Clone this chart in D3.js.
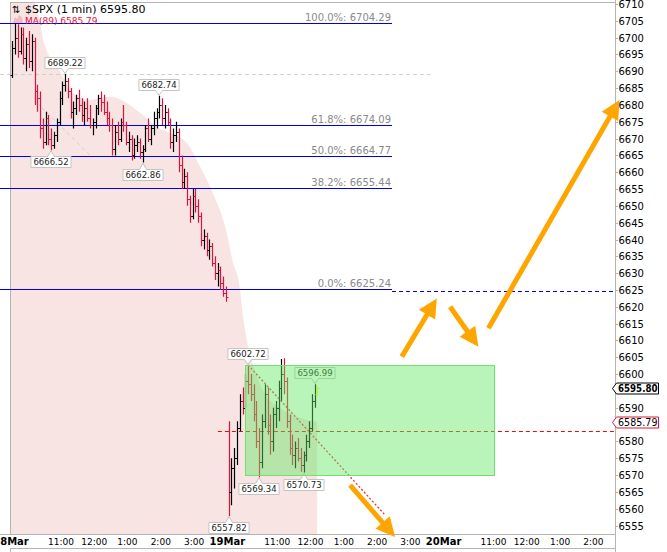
<!DOCTYPE html>
<html><head><meta charset="utf-8">
<script src="https://cdn.jsdelivr.net/npm/d3@7/dist/d3.min.js"></script>
<style>
body{margin:0;background:#fff}
svg{display:block}
text{font-family:"DejaVu Sans",Verdana,sans-serif}
</style>
</head><body>
<svg id="c" width="667" height="552"></svg>
<script>
// ---------------- DATA ----------------
// time unit: trading minutes since 18 Mar 9:30 (sessions of 390 min concatenated)
const dayLabels = [{t:0,label:"18Mar"},{t:390,label:"19Mar"},{t:780,label:"20Mar"}];
const hourLabels = [
  {t:90,label:"11:00"},{t:150,label:"12:00"},{t:210,label:"1:00"},{t:270,label:"2:00"},{t:330,label:"3:00"},
  {t:480,label:"11:00"},{t:540,label:"12:00"},{t:600,label:"1:00"},{t:660,label:"2:00"},{t:720,label:"3:00"},
  {t:870,label:"11:00"},{t:930,label:"12:00"},{t:990,label:"1:00"},{t:1050,label:"2:00"}
];
const yTickValues = [6555,6560,6565,6570,6575,6580,6585,6590,6595,6600,6605,6610,6615,6620,6625,
  6630,6635,6640,6645,6650,6655,6660,6665,6670,6675,6680,6685,6690,6695,6700,6705,6710];

// 5-minute OHLC bars [open, high, low, close], 18 Mar
const mar18Bars = [
 [6689,6699,6688,6697],[6697,6704.3,6695,6700],[6700,6704,6694,6696],[6696,6703,6695,6701],
 [6701,6703,6692,6694],[6694,6700,6690,6698],[6698,6702,6691,6693],[6693,6701,6690,6699],
 [6699,6700,6680,6684],[6684,6686,6678,6682],[6682,6684,6670,6673],[6673,6676,6667,6669],
 [6669,6678,6668,6676],[6676,6677,6668,6670],[6670,6673,6666.52,6668],[6668,6672,6667,6671],
 [6671,6676,6669,6675],[6675,6684,6674,6682],[6682,6687,6680,6686],[6686,6689.22,6684,6687],
 [6687,6688,6682,6684],[6684,6685,6676,6678],[6678,6681,6673,6679],[6679,6683,6677,6682],
 [6682,6684.5,6678,6680],[6680,6682,6675,6677],[6677,6681,6674,6679],[6679,6682,6675,6676],
 [6676,6680,6673,6674],[6674,6676,6671,6675],[6675,6680,6673,6679],[6679,6683,6677,6682],
 [6682,6684,6678,6681],[6681,6683,6677,6678],[6678,6681,6674,6676],[6676,6678,6672,6674],
 [6674,6676,6665,6667],[6667,6674,6665,6672],[6672,6675,6668,6670],[6670,6676,6669,6675],
 [6675,6680,6672,6674],[6674,6675,6668,6669],[6669,6672,6666,6670],[6670,6671,6663.5,6665],
 [6665,6670,6664,6668],[6668,6671,6666,6669],[6669,6670,6664,6666],[6666,6668,6662.86,6667],
 [6667,6674,6666,6673],[6673,6676,6669,6670],[6670,6674,6668,6673],[6673,6678,6671,6676],
 [6676,6679,6673,6678],[6678,6682.74,6676,6680],[6680,6682,6674,6676],[6676,6680,6673,6678],
 [6678,6679,6674,6675],[6675,6676,6667,6669],[6669,6673,6666,6671],[6671,6675,6669,6672],
 [6672,6673,6660,6662],[6662,6665,6655,6657],[6657,6661,6655,6659],[6659,6660,6650,6652],
 [6652,6653,6645,6647],[6647,6655,6646,6653],[6653,6655,6648,6650],[6650,6652,6645,6647],
 [6647,6648,6638,6640],[6640,6643,6637,6641],[6641,6642,6635,6637],[6637,6640,6634,6638],
 [6638,6639,6632,6633],[6633,6635,6628,6630],[6630,6633,6626,6631],[6631,6632,6625,6627],
 [6627,6629,6623,6624],[6624,6626,6621.5,6623]
];
// 5-minute OHLC bars, 19 Mar (from 9:30)
const mar19Bars = [
 [6583,6586,6557.82,6565],[6565,6575,6561,6572],[6572,6578,6566,6575],[6575,6586,6573,6584],
 [6584,6594,6583,6592],[6592,6596,6588,6590],[6590,6600,6590,6598],[6598,6602.72,6594,6597],
 [6597,6600,6592,6594],[6594,6597,6586,6588],[6588,6592,6578,6580],[6580,6584,6569.34,6574],
 [6574,6588,6572,6586],[6586,6597,6584,6594],[6594,6596,6582,6585],[6585,6588,6576,6580],
 [6580,6590,6577,6588],[6588,6592,6584,6590],[6590,6598,6586,6596],[6596,6604.5,6592,6600],
 [6600,6604.7,6594,6598],[6598,6599,6584,6586],[6586,6588,6576,6578],[6578,6582,6573,6576],
 [6576,6580,6572,6578],[6578,6581,6574,6575],[6575,6578,6571,6573],[6573,6577,6570.73,6576],
 [6576,6582,6574,6580],[6580,6586,6578,6584],[6584,6594,6583,6592],[6592,6596.99,6590,6594]
];
const lastBar = {t:551.5, o:6594, h:6596.5, l:6593.5, c:6595.80};

// MA(89) sampled along time
const maTimes  = [0,25,43,52,58,92,110,142,179,233,263,281,317,341,364,389,399,413,417,427,440,458,485,521,552];
const maValues = [6716,6713,6710,6705,6699.3,6689,6683.6,6681.5,6682.4,6677.6,6673.5,6672,6668.7,6661.6,6653.8,6642,6634,6625,6619,6608.7,6601,6594,6590,6587,6585.79];

// Fibonacci retracement
const fibLevels = ["100.0%","61.8%","50.0%","38.2%","0.0%"];
const fibValues = [6704.29,6674.09,6664.77,6655.44,6625.24];

const highCallouts = [6689.22,6682.74,6602.72,6596.99];
const lowCallouts  = [6666.52,6662.86,6569.34,6570.73,6557.82];

const lastPrice = 6595.80;
const maLast = 6585.79;
const refLine = 6583;          // red dashed horizontal
const hiLine = 6689.22;        // grey dashed horizontal
// annotations [t1, v1, t2, v2]
const greyTrend = [47,6680.6,146,6664.5];
const redTrend = [427.5,6602.72,674.5,6558.1];
const boxRange = [422,6602.72,871,6570];
const arrows = [
  [704.6,6605.2,767.7,6622.5],
  [791.7,6620.0,842.7,6608.1],
  [860.8,6613.6,1097,6681.5],
  [611.4,6567.0,692.5,6551.6]
];

// ---------------- DRAW ----------------
const svg = d3.select("#c");
const x = d3.scaleLinear().domain([0,1080]).range([11,610]);
const y = d3.scaleLinear().domain([6555,6710]).range([525.5,4]);
const L = 10, R = 615, T = 3, B = 535;
const crisp = v => Math.round(v) + 0.5;
const tStart = x.invert(0);

svg.append("defs").append("clipPath").attr("id","plot")
  .append("rect").attr("x",L).attr("y",T).attr("width",R-L).attr("height",B-T);

// MA area
const area = d3.area().x(d=>x(d[0])).y0(B).y1(d=>y(d[1])).curve(d3.curveMonotoneX);
svg.append("path").attr("clip-path","url(#plot)")
  .attr("d", area(maTimes.map((t,i)=>[t,maValues[i]])))
  .attr("fill","#f9e4e4");

// frame
const frame = svg.append("g").attr("stroke","#b4b4b4").attr("fill","none");
frame.append("line").attr("x1",L+0.5).attr("x2",L+0.5).attr("y1",T).attr("y2",B);
frame.append("line").attr("x1",L).attr("x2",R).attr("y1",T-0.5).attr("y2",T-0.5);
frame.append("line").attr("x1",0).attr("x2",R).attr("y1",B-0.5).attr("y2",B-0.5);
frame.append("line").attr("x1",L).attr("x2",R).attr("y1",548.5).attr("y2",548.5);
frame.append("line").attr("x1",L+0.5).attr("x2",L+0.5).attr("y1",548).attr("y2",552);
frame.append("line").attr("x1",R+0.5).attr("x2",R+0.5).attr("y1",0).attr("y2",552);

// grey dashed lines
svg.append("line").attr("x1",x(tStart)).attr("x2",x(756))
  .attr("y1",crisp(y(hiLine))).attr("y2",crisp(y(hiLine)))
  .attr("stroke","#c8d6c4").attr("stroke-dasharray","4,3");
svg.append("line").attr("x1",x(greyTrend[0])).attr("y1",y(greyTrend[1]))
  .attr("x2",x(greyTrend[2])).attr("y2",y(greyTrend[3]))
  .attr("stroke","#c8d6c4").attr("stroke-dasharray","4,3");

// fib lines
const fibEnd = 687;
fibValues.forEach((v,i)=>{
  const yy = crisp(y(v));
  svg.append("line").attr("x1",0).attr("x2",x(fibEnd)).attr("y1",yy).attr("y2",yy)
    .attr("stroke","#0000e6").attr("stroke-width",1);
  svg.append("text").attr("x",x(fibEnd)-1).attr("y",yy-3).attr("text-anchor","end")
    .attr("font-size",10).attr("fill","#8a8a8a").text(`${fibLevels[i]}: ${v.toFixed(2)}`);
});
const y0 = crisp(y(fibValues[4]) + 1.5);
svg.append("line").attr("x1",x(fibEnd)).attr("x2",R).attr("y1",y0).attr("y2",y0)
  .attr("stroke","#0000e6").attr("stroke-dasharray","4,3");

// red dashed
const yr = crisp(y(refLine));
svg.append("line").attr("x1",x(373)).attr("x2",R).attr("y1",yr).attr("y2",yr)
  .attr("stroke","#e01010").attr("stroke-dasharray","4,3");

// bars
const bars = [];
mar18Bars.forEach((b,i)=>bars.push({t:i*5+2.5,o:b[0],h:b[1],l:b[2],c:b[3]}));
mar19Bars.forEach((b,j)=>bars.push({t:390+j*5+2.5,o:b[0],h:b[1],l:b[2],c:b[3]}));
const gBars = svg.append("g").attr("clip-path","url(#plot)");
function barPath(d){
  const px = crisp(x(d.t));
  const yo = crisp(y(d.o)), yc = crisp(y(d.c));
  return `M${px},${y(d.h)}V${y(d.l)}M${px-2},${yo}H${px}M${px},${yc}H${px+2}`;
}
gBars.selectAll("path.bar").data(bars).join("path").attr("class","bar")
  .attr("d",barPath).attr("fill","none").attr("stroke-width",1.2)
  .attr("stroke",d=>d.c>=d.o?"#000":"#dc143c");
gBars.append("path").attr("d",barPath(lastBar)).attr("fill","none").attr("stroke","#ffff00");

// red dotted trend
svg.append("line").attr("x1",x(redTrend[0])).attr("y1",y(redTrend[1]))
  .attr("x2",x(redTrend[2])).attr("y2",y(redTrend[3]))
  .attr("stroke","#e8303c").attr("stroke-width",1.3).attr("stroke-dasharray","2,2");

// callouts
function callout(d, v, up){
  const cx = Math.round(x(d.t));
  const py = y(v);
  const g = svg.append("g");
  const txt = g.append("text").attr("font-size",8.5).attr("fill","#222")
    .attr("text-anchor","middle").text(v.toFixed(2));
  const w = txt.node().getComputedTextLength() + 5;
  const l = cx - w/2, r = cx + w/2;
  let p, mid;
  if (up){
    const b = Math.round(py - 6) + 0.5, t = b - 11, tip = py - 0.5;
    p = `M${l},${t}H${r}V${b}H${cx+3.5}L${cx},${tip}L${cx-3.5},${b}H${l}Z`;
    mid = (t+b)/2;
  } else {
    const t = Math.round(py + 6) + 0.5, b = t + 11, tip = py + 0.5;
    p = `M${l},${t}H${cx-3.5}L${cx},${tip}L${cx+3.5},${t}H${r}V${b}H${l}Z`;
    mid = (t+b)/2;
  }
  g.insert("path","text").attr("d",p).attr("fill","#fff").attr("stroke","#c4c4c4");
  txt.attr("x",cx).attr("y",mid+3.1);
}
highCallouts.forEach(v=>{ const d = bars.find(b=>b.h===v); callout(d,v,true); });
lowCallouts.forEach(v=>{ const d = bars.find(b=>b.l===v); callout(d,v,false); });

// green box
svg.append("rect").attr("x",crisp(x(boxRange[0]))).attr("y",crisp(y(boxRange[1])))
  .attr("width",Math.round(x(boxRange[2])-x(boxRange[0])))
  .attr("height",Math.round(y(boxRange[3])-y(boxRange[1])))
  .attr("fill","rgba(100,230,100,0.45)").attr("stroke","#70e070");

// arrows
arrows.forEach(a=>{
  const x1=x(a[0]), y1=y(a[1]), x2=x(a[2]), y2=y(a[3]);
  const dx=x2-x1, dy=y2-y1, len=Math.hypot(dx,dy), ux=dx/len, uy=dy/len;
  const hl=19, hw=9.5;
  const bx=x2-ux*hl, by=y2-uy*hl;
  svg.append("line").attr("x1",x1).attr("y1",y1).attr("x2",bx+ux*2).attr("y2",by+uy*2)
    .attr("stroke","#ffa500").attr("stroke-width",5);
  svg.append("path").attr("d",`M${x2},${y2}L${bx-uy*hw},${by+ux*hw}L${bx+uy*hw},${by-ux*hw}Z`)
    .attr("fill","#ffa500");
});

// y axis
const hidden = [lastPrice, maLast].map(v=>y(v));
const gy = svg.append("g");
yTickValues.forEach(v=>{
  const yy = crisp(y(v));
  gy.append("line").attr("x1",R).attr("x2",R+3).attr("y1",yy).attr("y2",yy).attr("stroke","#b4b4b4");
  if (hidden.some(h=>Math.abs(h-y(v))<10)) return;
  gy.append("text").attr("x",R+3.5).attr("y",yy+3.6).attr("font-size",10).attr("fill","#000").text(v);
});

// price markers
function marker(v, stroke, bold, fsize){
  const yy = Math.round(y(v)) + 0.5;
  svg.append("path").attr("d",`M${R-2.5},${yy}L${R+1.5},${yy-5.5}H${R+43.5}V${yy+5.5}H${R+1.5}Z`)
    .attr("fill","#fff").attr("stroke",stroke);
  svg.append("text").attr("x",R+3).attr("y",yy+3.6).attr("font-size",fsize)
    .attr("font-weight",bold?"bold":"normal").attr("fill","#000")
    .attr("textLength",39.5).attr("lengthAdjust","spacingAndGlyphs").text(v.toFixed(2));
}
marker(lastPrice,"#000",true,10);
marker(maLast,"#dc143c",false,10);

// x axis labels
const gx = svg.append("g");
dayLabels.forEach(d=>{
  gx.append("text").attr("x",x(d.t)).attr("y",544.5).attr("text-anchor","middle")
    .attr("font-size",10).attr("font-weight","bold").text(d.label);
});
hourLabels.forEach(d=>{
  gx.append("text").attr("x",x(d.t)).attr("y",544.5).attr("text-anchor","middle")
    .attr("font-size",9).attr("font-family","'Liberation Sans',Arial,sans-serif").text(d.label);
});

// legend
svg.append("text").attr("x",12).attr("y",12.5).attr("font-size",10).text("⇅");
svg.append("text").attr("x",25).attr("y",12.5).attr("font-size",11).attr("fill","#000").text("$SPX (1 min) 6595.80");
svg.append("path").attr("d","M13,23L15,17L17,19L19,15L22,17L23,23Z").attr("fill","#f2bcbc");
svg.append("text").attr("x",25).attr("y",23.5).attr("font-size",9).attr("fill","#dc143c").text("MA(89) 6585.79");
</script>
</body></html>
